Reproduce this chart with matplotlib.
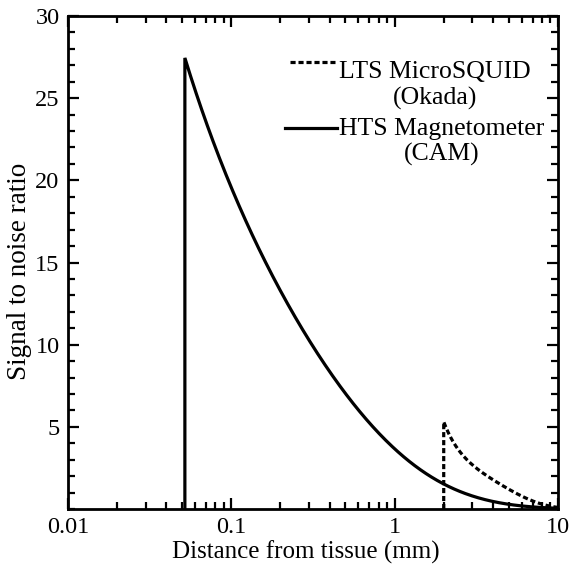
import numpy as np
import matplotlib
matplotlib.use("Agg")
import matplotlib.pyplot as plt
from matplotlib.ticker import MultipleLocator, FixedLocator, FixedFormatter, NullFormatter

# ---------------- data ----------------
hts_x = [0.052, 0.052, 0.0738, 0.0932, 0.118, 0.142, 0.188, 0.249, 0.322, 0.407,
         0.565, 0.78, 1.04, 1.40, 1.66, 2.0, 3.68, 6.2, 10.0]
hts_y = [0.0, 27.45, 23.86, 21.43, 18.6, 16.36, 13.93, 11.70, 9.87, 8.25,
         6.02, 4.40, 3.39, 2.57, 2.08, 1.56, 0.55, 0.14, 0.05]

lts_x = [2.0, 2.0, 2.16, 2.37, 2.6, 3.05, 3.68, 4.43, 5.55, 7.0, 9.1, 10.0]
lts_y = [0.0, 5.31, 5.0, 4.2, 3.59, 2.78, 1.97, 1.46, 0.95, 0.55, 0.18, 0.1]

x_ticks = [0.01, 0.1, 1, 10]
x_labels = ["0.01", "0.1", "1", "10"]
y_ticks = [5, 10, 15, 20, 25, 30]

lts_label = "LTS MicroSQUID\n(Okada)"
hts_label = "HTS Magnetometer\n(CAM)"

plt.rcParams['font.family'] = ['Liberation Serif', 'DejaVu Serif']

fig = plt.figure(figsize=(5.71, 5.72), dpi=100)
ax = fig.add_axes([0.119, 0.110, 0.858, 0.862])


# least-squares smoothing of the read points (log y vs log x),
# pinned to the first and last read points; the vertical jump is kept as read
def smooth(xs, ys, deg):
    lx = np.log10(xs[1:])
    ly = np.log10(ys[1:])
    coef = np.polyfit(lx, ly, deg)
    grid = np.linspace(lx[0], lx[-1], 400)
    fit = np.polyval(coef, grid)
    t = (grid - grid[0]) / (grid[-1] - grid[0])
    fit += (ly[0] - fit[0]) * (1 - t) ** 3 + (ly[-1] - fit[-1]) * t ** 3
    return [xs[0]] + list(10 ** grid), [ys[0]] + list(10 ** fit)


hx, hy = smooth(hts_x, hts_y, 4)
lx, ly = smooth(lts_x, lts_y, 3)

ax.plot(hx, hy, color="black", lw=2.3, solid_joinstyle="miter")
ax.plot(lx, ly, color="black", lw=2.3, ls=(0, (1.6, 0.9)))

ax.set_xscale("log")
ax.set_xlim(0.01, 10)
ax.set_ylim(0, 30)

ax.xaxis.set_major_locator(FixedLocator(x_ticks))
ax.xaxis.set_major_formatter(FixedFormatter(x_labels))
ax.xaxis.set_minor_formatter(NullFormatter())
ax.yaxis.set_major_locator(FixedLocator(y_ticks))
ax.yaxis.set_minor_locator(MultipleLocator(1))

ax.tick_params(which="both", direction="in", top=True, right=True, width=1.6, labelsize=17.5)
ax.tick_params(which="major", length=8, pad=6)
ax.tick_params(which="minor", length=5)
for s in ax.spines.values():
    s.set_linewidth(2.0)

ax.set_xlabel("Distance from tissue (mm)", fontsize=18)
ax.set_ylabel("Signal to noise ratio", fontsize=19.5)
ax.xaxis.set_label_coords(0.486, -0.064)
ax.yaxis.set_label_coords(-0.073, 0.483)

# legend drawn by hand: handle beside first line, second line centred below
ax.plot([0.453, 0.545], [0.907, 0.907], transform=ax.transAxes, color="black", lw=2.3, ls=(0, (1.6, 0.9)))
ax.plot([0.443, 0.549], [0.773, 0.773], transform=ax.transAxes, color="black", lw=2.3)
ax.text(0.553, 0.908, lts_label, transform=ax.transAxes, ha="left", va="top",
        multialignment="center", fontsize=18.5, linespacing=1.2)
ax.text(0.553, 0.794, hts_label, transform=ax.transAxes, ha="left", va="top",
        multialignment="center", fontsize=18.5, linespacing=1.2)

fig.savefig("out.png", dpi=100)
